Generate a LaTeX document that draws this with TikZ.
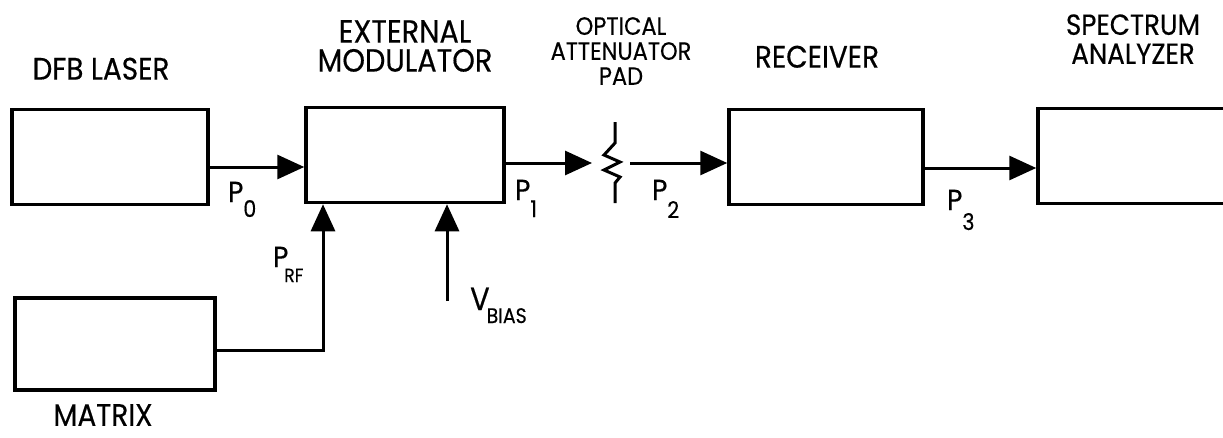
\documentclass[tikz,border=0pt]{standalone}
\usepackage{fontspec}
\setmainfont{Poppins}[FakeStretch=0.9,FakeBold=0.4]
\usetikzlibrary{arrows.meta,positioning}
\newcommand{\lowsub}[2]{\raisebox{-#1}{\fontsize{23}{23}\selectfont #2}}
\begin{document}
\begin{tikzpicture}[x=1pt,y=-1pt,
  box/.style={draw,line width=3.5pt,minimum width=196pt,minimum height=95pt,inner sep=0pt},
  flow/.style={line width=3pt,-{Triangle[length=27pt,width=24pt]}},
  title/.style={align=center,inner sep=0pt,anchor=south,font=\fontsize{31}{29}\selectfont},
  small title/.style={title,font=\fontsize{25}{25}\selectfont},
  sig/.style={anchor=base west,inner sep=0pt,font=\fontsize{29}{29}\selectfont}]
  \useasboundingbox (0,0) rectangle (1223,437);
  \node[box] (laser) at (110,157) {};
  \node[box,minimum width=198pt] (modulator) at (405,155) {};
  \node[box,minimum width=194pt] (receiver) at (826,157) {};
  \node[box,minimum width=200pt] (analyzer) at (1138,156) {};
  \node[box,minimum width=200pt,minimum height=92pt] (matrix) at (115,344) {};
  \node[title] (laserlbl) at (101,80) {DFB LASER};
  \node[title,font=\fontsize{32}{29}\selectfont] (modlbl) at (405,72) {EXTERNAL\\MODULATOR};
  \node[small title] (attlbl) at (621,85) {OPTICAL\\ATTENUATOR\\PAD};
  \node[title] (recvlbl) at (817,68) {RECEIVER};
  \node[title,font=\fontsize{29}{29}\selectfont] (anlbl) at (1133,64) {SPECTRUM\\ANALYZER};
  \node[title] (matrixlbl) at (103,426) {MATRIX};
  \coordinate (attin) at (592,163);
  \coordinate (attout) at (630,163);
  \coordinate (bias) at (447,301);
  \draw[line width=3pt] (615,122) -- (615,143) -- (604,155) -- (620,162) -- (604,170)
    -- (620,177) -- (615,183) -- (615,203);
  \draw[flow] ([yshift=-10pt]laser.east) -- ([yshift=-10pt]laser.east -| modulator.west);
  \draw[flow] ([yshift=-8pt]modulator.east) -- (attin);
  \draw[flow] (attout) -- (attout -| receiver.west);
  \draw[flow] ([yshift=-11pt]receiver.east) -- ([yshift=-11pt]receiver.east -| analyzer.west);
  \draw[flow] ([yshift=-6pt]matrix.east) -| ([xshift=-82pt]modulator.south);
  \draw[flow] (bias) -- (bias |- modulator.south);
  \node[sig] (p0) at (228,202) {P\lowsub{15pt}{0}};
  \node[sig] (p1) at (515,200) {P\lowsub{17pt}{1}};
  \node[sig] (p2) at (652,200) {P\lowsub{18pt}{2}};
  \node[sig] (p3) at (947,210) {P\lowsub{20pt}{3}};
  \node[sig] (prf) at (273,267) {P\kern-4pt\lowsub{15pt}{\fontsize{19}{19}\selectfont RF}};
  \node[sig,font=\fontsize{32}{32}\selectfont] (vbias) at (470,310) {V\kern-3pt\lowsub{13pt}{\fontsize{21}{21}\selectfont BIAS}};
\end{tikzpicture}
\end{document}
